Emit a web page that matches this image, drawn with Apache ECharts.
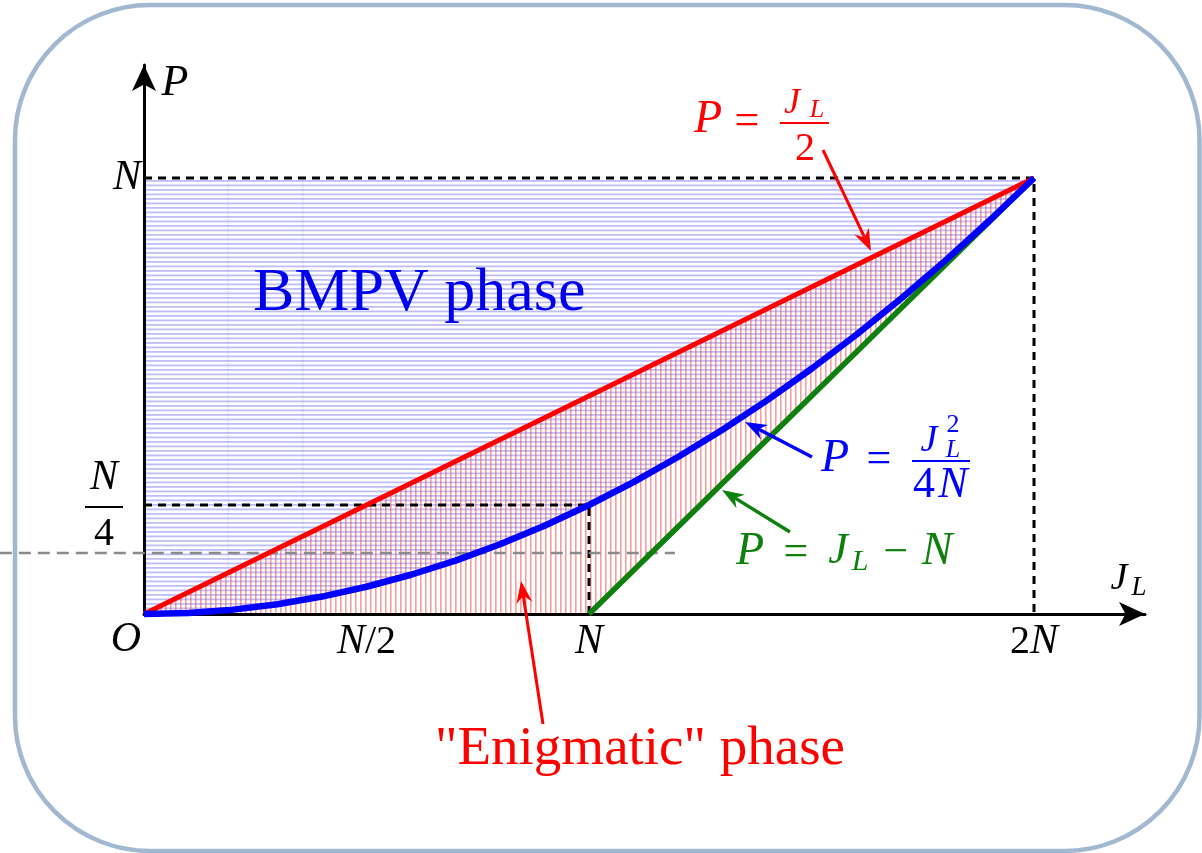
<!DOCTYPE html>
<html>
<head>
<meta charset="utf-8">
<script src="https://cdn.jsdelivr.net/npm/echarts@6/dist/echarts.min.js"></script>
<style>
html,body{margin:0;padding:0;background:#fff;}
#chart{width:1202px;height:853px;}
</style>
</head>
<body>
<div id="chart"></div>
<script>
// ---- data (units: J_L / N and P / N) ----
const redLineJ = [0, 2];
const redLineP = [0, 1];
const blueCurveJ = [0, 0.1, 0.2, 0.3, 0.4, 0.5, 0.6, 0.7, 0.8, 0.9, 1.0, 1.1, 1.2, 1.3, 1.4, 1.5, 1.6, 1.7, 1.8, 1.9, 2.0];
const blueCurveP = [0, 0.0025, 0.01, 0.0225, 0.04, 0.0625, 0.09, 0.1225, 0.16, 0.2025, 0.25, 0.3025, 0.36, 0.4225, 0.49, 0.5625, 0.64, 0.7225, 0.81, 0.9025, 1.0];
const greenLineJ = [1, 2];
const greenLineP = [0, 1];
const boxJ = [0, 2, 2];
const boxP = [1, 1, 0];
const quarterJ = [0, 1, 1];
const quarterP = [0.25, 0.25, 0];
const greyGuideJ = [-0.324, 1.193];
const greyGuideP = [0.14, 0.14];
const faintJ = [0.189, 0.357];
const xTickValues = [0.5, 1, 2];
const xTickLabels = ['{i|N}{r|/2}', '{i|N}', '{r|2}{i|N}'];
const yTickValues = [0.25, 1];
const yTickLabels = ['{n|N}{sp| }\n{bar| }{sp| }\n{d|4}{sp| }', '{i|N}'];

const SERIF = '"Liberation Serif", "DejaVu Serif", serif';

function makePattern(kind) {
  const c = document.createElement('canvas');
  const ctx = c.getContext('2d');
  if (kind === 'h') {
    c.width = 4; c.height = 9;
    ctx.fillStyle = 'rgba(110,110,245,0.45)';
    ctx.fillRect(0, 0, 4, 1.8);
    ctx.fillRect(0, 4.5, 4, 1.8);
  } else {
    c.width = 5; c.height = 4;
    ctx.fillStyle = 'rgba(238,80,80,0.55)';
    ctx.fillRect(0, 0, 1.6, 4);
  }
  return { image: c, repeat: 'repeat' };
}
const bluePattern = makePattern('h');
const redPattern = makePattern('v');

function pairs(js, ps) { return js.map((j, i) => [j, ps[i]]); }

function lineSeries(js, ps, color, width, z, type) {
  return {
    type: 'line', data: pairs(js, ps), symbol: 'none', silent: true, z: z,
    clip: false, animation: false,
    lineStyle: { color: color, width: width, type: type || 'solid', cap: 'butt', join: 'round' }
  };
}

function txt(s, x, y, size, color, italic, align) {
  return {
    type: 'text', x: x, y: y, silent: true, z: 50,
    style: {
      text: s, fill: color, align: align || 'center', verticalAlign: 'middle',
      font: (italic ? 'italic ' : '') + size + 'px ' + SERIF
    }
  };
}
function bar(x1, x2, y, color) {
  return { type: 'rect', silent: true, z: 50, shape: { x: x1, y: y - 1, width: x2 - x1, height: 2 }, style: { fill: color } };
}
function arrow(x1, y1, x2, y2, color, w) {
  const dx = x2 - x1, dy = y2 - y1, len = Math.sqrt(dx * dx + dy * dy);
  const ux = dx / len, uy = dy / len, nx = -uy, ny = ux;
  const hl = 22, hw = 8, notch = 15;
  const bx = x2 - ux * hl, by = y2 - uy * hl;
  const mx = x2 - ux * notch, my = y2 - uy * notch;
  return [
    { type: 'line', silent: true, z: 50, shape: { x1: x1, y1: y1, x2: mx, y2: my }, style: { stroke: color, lineWidth: w } },
    { type: 'polygon', silent: true, z: 50, shape: { points: [[x2, y2], [bx + nx * hw, by + ny * hw], [mx, my], [bx - nx * hw, by - ny * hw]] }, style: { fill: color } }
  ];
}

const RED = '#ff0000', BLUE = '#0000ff', GREEN = '#0d800d';

const graphics = [
  { type: 'rect', silent: true, z: 0, shape: { x: 15, y: 5, width: 1184.5, height: 846, r: 135 }, style: { fill: 'none', stroke: '#a2b8d1', lineWidth: 4.5 } },
  txt('O', 126, 640, 42, '#000', true),
  txt('P', 175, 83, 44, '#000', true),
  txt('J', 1119, 579, 38, '#000', true),
  txt('L', 1139, 588, 27, '#000', true),
  txt('BMPV phase', 253, 294, 62, '#0000ee', false, 'left'),
  txt('"Enigmatic" phase', 640, 750, 55, RED, false),
  // red label
  txt('P', 708, 120, 46, RED, true),
  txt('=', 747, 122, 44, RED, false),
  txt('J', 792, 104, 36, RED, true),
  txt('L', 817, 110, 26, RED, true),
  bar(780, 829, 123, RED),
  txt('2', 805, 149, 40, RED, false),
  // blue label
  txt('P', 835, 459, 46, BLUE, true),
  txt('=', 879, 460, 44, BLUE, false),
  txt('J', 929, 441, 38, BLUE, true),
  txt('2', 953, 425, 26, BLUE, false),
  txt('L', 953, 450, 26, BLUE, true),
  bar(912, 970, 461, BLUE),
  txt('4', 924, 485, 44, BLUE, false),
  txt('N', 953, 485, 44, BLUE, true),
  // green label
  txt('P', 750, 552, 46, GREEN, true),
  txt('=', 796, 553, 44, GREEN, false),
  txt('J', 838, 551, 44, GREEN, true),
  txt('L', 860, 562, 30, GREEN, true),
  txt('\u2212', 896, 553, 44, GREEN, false),
  txt('N', 937, 552, 46, GREEN, true)
].concat(
  arrow(823, 150, 871, 251, RED, 3),
  arrow(812, 457, 745, 422, BLUE, 3.5),
  arrow(790, 532, 722, 490, GREEN, 3.5),
  arrow(543, 724, 521, 581, RED, 3)
);

const chart = echarts.init(document.getElementById('chart'), null, { renderer: 'canvas' });
chart.setOption({
  animation: false,
  backgroundColor: '#fff',
  grid: { left: 144, right: 57, top: 65, bottom: 239, containLabel: false },
  xAxis: {
    type: 'value', min: 0, max: 2.2494, z: 3,
    splitLine: { show: false }, axisTick: { show: false },
    axisLine: { show: true, onZero: false, symbol: ['none', 'arrow'], symbolSize: [18, 26], symbolOffset: [0, 0],
      lineStyle: { color: '#000', width: 3 } },
    axisLabel: {
      customValues: xTickValues, margin: 7, color: '#000',
      formatter: v => xTickLabels[xTickValues.indexOf(v)] || '',
      rich: {
        i: { fontFamily: SERIF, fontStyle: 'italic', fontSize: 42, color: '#000' },
        r: { fontFamily: SERIF, fontSize: 40, color: '#000' }
      }
    }
  },
  yAxis: {
    type: 'value', min: 0, max: 1.2592, z: 3,
    splitLine: { show: false }, axisTick: { show: false },
    axisLine: { show: true, onZero: false, symbol: ['none', 'arrow'], symbolSize: [18, 26], symbolOffset: [0, 0],
      lineStyle: { color: '#000', width: 3 } },
    axisLabel: {
      customValues: yTickValues, margin: 3, color: '#000',
      formatter: v => yTickLabels[yTickValues.indexOf(v)] || '',
      rich: {
        i: { fontFamily: SERIF, fontStyle: 'italic', fontSize: 42, color: '#000' },
        n: { fontFamily: SERIF, fontStyle: 'italic', fontSize: 42, color: '#000', width: 38, align: 'center', lineHeight: 54 },
        bar: { width: 38, height: 2, lineHeight: 4, backgroundColor: '#000' },
        sp: { width: 18, fontSize: 10, lineHeight: 4 },
        d: { fontFamily: SERIF, fontSize: 40, color: '#000', width: 38, align: 'center', lineHeight: 50 }
      }
    }
  },
  graphic: graphics,
  series: [
    {
      type: 'custom', coordinateSystem: 'cartesian2d', data: [[0, 0]], z: 1, silent: true,
      renderItem: function (params, api) {
        const bluePts = [api.coord([0, 1])].concat(pairs(blueCurveJ, blueCurveP).map(p => api.coord(p)));
        const redPts = pairs(redLineJ, redLineP).map(p => api.coord(p))
          .concat(pairs(greenLineJ, greenLineP).reverse().slice(1).map(p => api.coord(p)));
        return {
          type: 'group', children: [
            { type: 'polygon', shape: { points: bluePts }, style: { fill: bluePattern } },
            { type: 'polygon', shape: { points: redPts }, style: { fill: redPattern } }
          ]
        };
      }
    },
    lineSeries([faintJ[0], faintJ[0]], [0.1, 1], 'rgba(120,120,235,0.4)', 1, 2, 'dotted'),
    lineSeries([faintJ[1], faintJ[1]], [0.18, 1], 'rgba(120,120,235,0.4)', 1, 2, 'dotted'),
    lineSeries(boxJ, boxP, '#000', 3, 3, [8, 6]),
    lineSeries(quarterJ, quarterP, '#000', 3, 3, [8, 6]),
    lineSeries(redLineJ, redLineP, RED, 5, 5),
    lineSeries(greenLineJ, greenLineP, GREEN, 5.5, 5),
    lineSeries(blueCurveJ, blueCurveP, BLUE, 6.5, 6)
  ]
});

// grey dashed guide extends beyond the plotting area: draw it from converted data coordinates
const g0 = chart.convertToPixel({ gridIndex: 0 }, [greyGuideJ[0], greyGuideP[0]]);
const g1 = chart.convertToPixel({ gridIndex: 0 }, [greyGuideJ[1], greyGuideP[1]]);
chart.setOption({
  graphic: graphics.concat([{
    type: 'line', silent: true, z: 4,
    shape: { x1: g0[0], y1: g0[1], x2: g1[0], y2: g1[1] },
    style: { stroke: '#8a8a8a', lineWidth: 2.5, lineDash: [12, 7] }
  }])
});
</script>
</body>
</html>
